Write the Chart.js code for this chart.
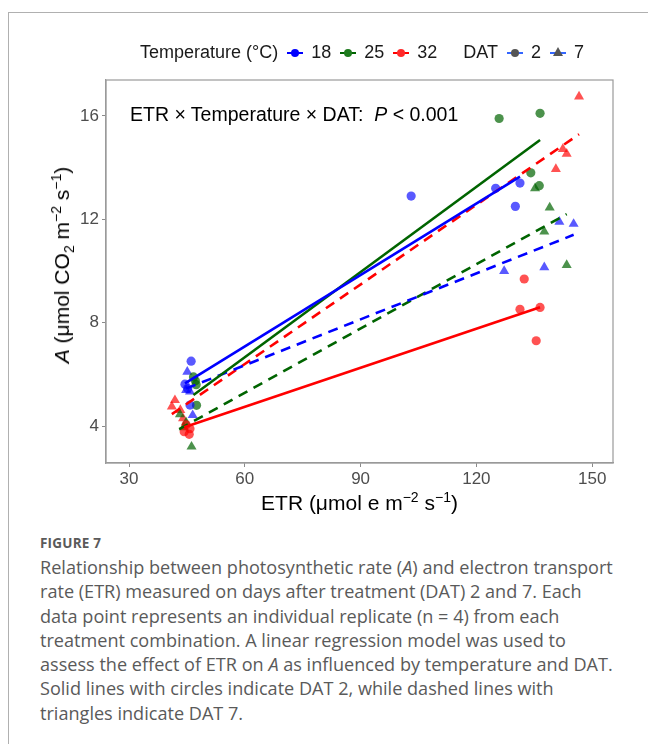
<!DOCTYPE html>
<html>
<head>
<meta charset="utf-8">
<script src="https://cdn.jsdelivr.net/npm/chart.js@4.4.1/dist/chart.umd.min.js"></script>
<style>
  body { margin: 0; background: #fff; }
  #wrap { position: relative; width: 648px; height: 744px; overflow: hidden; font-family: "Liberation Sans", Arial, sans-serif; }
  #frame { position: absolute; left: 8px; top: 12px; width: 700px; height: 800px; border-left: 1.5px solid #b0b0b0; border-top: 1.5px solid #b0b0b0; }
  #chart { position: absolute; left: 0; top: 0; }
  #legend { position: absolute; left: 140px; top: 42px; font-size: 18px; color: #1a1a1a; white-space: nowrap; display: flex; align-items: center; }
  .key { display: inline-block; position: relative; width: 16px; height: 14px; margin: 0 8px 0 9px; }
  .key .ln { position: absolute; left: 0; right: 0; top: 6px; height: 2.5px; }
  .key .dot { position: absolute; left: 4px; top: 3px; width: 8px; height: 8px; border-radius: 50%; }
  .key .tri { position: absolute; left: 3px; top: 1px; width: 0; height: 0; border-left: 5px solid transparent; border-right: 5px solid transparent; border-bottom: 9px solid #555; }
  #note { position: absolute; left: 130px; top: 103px; font-size: 19.5px; color: #000; white-space: nowrap; }
  #xtitle { position: absolute; left: 106px; width: 507px; top: 491px; text-align: center; font-size: 21px; color: #000; }
  #ytitle { position: absolute; left: 62px; top: 265px; transform: translate(-50%, -50%) rotate(-90deg); font-size: 21px; color: #000; white-space: nowrap; }
  sup, sub { font-size: 14px; line-height: 0; }
  #caption { position: absolute; left: 40px; top: 534px; width: 610px; font-family: "Open Sans", Lato, sans-serif; color: #5a5a5a; }
  #caption .fig { font-size: 13.5px; font-weight: bold; letter-spacing: 0.2px; margin-bottom: 3px; }
  #caption .txt { font-size: 18.1px; line-height: 24.3px; }
</style>
</head>
<body>
<div id="wrap">
  <div id="frame"></div>
  <canvas id="chart" width="648" height="500"></canvas>
  <div id="legend">
    <span>Temperature (°C)</span>
    <span class="key"><span class="ln" style="background:#0000ff"></span><span class="dot" style="background:#0000ff"></span></span><span>18</span>
    <span class="key"><span class="ln" style="background:#006400"></span><span class="dot" style="background:#1e7b1e"></span></span><span>25</span>
    <span class="key"><span class="ln" style="background:#ff0000"></span><span class="dot" style="background:#ff2a2a"></span></span><span>32</span>
    <span style="margin-left:26px">DAT</span>
    <span class="key"><span class="ln" style="background:#3366ff"></span><span class="dot" style="background:#555"></span></span><span>2</span>
    <span class="key"><span class="ln" style="background:#3366ff"></span><span class="tri"></span></span><span>7</span>
  </div>
  <div id="note">ETR × Temperature × DAT:&nbsp; <i>P</i> &lt; 0.001</div>
  <div id="xtitle">ETR (μmol e m<sup>−2</sup> s<sup>−1</sup>)</div>
  <div id="ytitle"><i>A</i> (μmol CO<sub>2</sub> m<sup>−2</sup> s<sup>−1</sup>)</div>
  <div id="caption">
    <div class="fig">FIGURE 7</div>
    <div class="txt">Relationship between photosynthetic rate (<i>A</i>) and electron transport<br>rate (ETR) measured on days after treatment (DAT) 2 and 7. Each<br>data point represents an individual replicate (n = 4) from each<br>treatment combination. A linear regression model was used to<br>assess the effect of ETR on <i>A</i> as influenced by temperature and DAT.<br>Solid lines with circles indicate DAT 2, while dashed lines with<br>triangles indicate DAT 7.</div>
  </div>
</div>
<script>
// axis ticks
const x_ticks = [30, 60, 90, 120, 150];
const y_ticks = [4, 8, 12, 16];

// points: ETR (x) and A (y), per temperature and DAT
const etr_18_d2 = [46.1, 44.5, 45.8, 45.2, 103.1, 125.0, 131.3, 130.1];
const a_18_d2   = [6.51, 5.62, 4.81, 5.45, 12.9, 13.2, 13.4, 12.5];
const etr_25_d2 = [46.7, 47.4, 47.5, 47.2, 125.9, 136.5, 134.1, 136.3];
const a_25_d2   = [5.9, 5.6, 4.8, 5.75, 15.9, 16.1, 13.8, 13.3];
const etr_32_d2 = [44.8, 44.3, 45.6, 45.8, 132.4, 131.3, 136.5, 135.5];
const a_32_d2   = [4.05, 3.78, 3.68, 3.9, 9.69, 8.52, 8.59, 7.30];
const etr_18_d7 = [45.1, 44.8, 45.8, 46.5, 127.2, 137.6, 141.5, 145.2];
const a_18_d7   = [6.10, 5.39, 5.33, 4.42, 10.0, 10.14, 11.9, 11.82];
const etr_25_d7 = [43.2, 44.8, 44.2, 46.2, 135.2, 139.0, 137.6, 143.4];
const a_25_d7   = [4.45, 4.14, 3.95, 3.20, 13.2, 12.45, 11.52, 10.23];
const etr_32_d7 = [41.9, 41.1, 43.3, 44.0, 146.6, 142.4, 143.4, 140.6];
const a_32_d7   = [5.0, 4.75, 4.62, 4.3, 16.75, 14.72, 14.53, 13.94];

// fitted regression lines (start, end)
const fit_18_d2_x = [44.5, 131.3], fit_18_d2_y = [5.65, 13.65];
const fit_25_d2_x = [46.7, 136.5], fit_25_d2_y = [5.2, 15.07];
const fit_32_d2_x = [44.3, 136.5], fit_32_d2_y = [3.95, 8.6];
const fit_18_d7_x = [44.8, 145.2], fit_18_d7_y = [5.45, 11.4];
const fit_25_d7_x = [43.0, 143.4], fit_25_d7_y = [3.88, 12.2];
const fit_32_d7_x = [41.1, 146.6], fit_32_d7_y = [4.46, 15.29];

const line_col = { 18: '#0000ff', 25: '#006400', 32: '#ff0000' };
const pt_col = { 18: 'rgba(0,0,255,0.65)', 25: 'rgba(0,100,0,0.7)', 32: 'rgba(255,0,0,0.68)' };

function pts(xs, ys) {
  return xs.map((x, i) => ({ x: x, y: ys[i] }));
}

function point_set(xs, ys, temp, shape) {
  return {
    type: 'scatter',
    data: pts(xs, ys),
    backgroundColor: pt_col[temp],
    borderWidth: 0,
    pointStyle: shape,
    pointRadius: shape === 'triangle' ? 5.8 : 4.6,
    order: 2
  };
}

function fit_set(xs, ys, temp, dashed) {
  return {
    type: 'line',
    data: pts(xs, ys),
    borderColor: line_col[temp],
    borderWidth: 2.6,
    borderDash: dashed ? [10, 7] : [],
    pointRadius: 0,
    fill: false,
    order: 1
  };
}

const datasets = [
  point_set(etr_18_d2, a_18_d2, 18, 'circle'),
  point_set(etr_25_d2, a_25_d2, 25, 'circle'),
  point_set(etr_32_d2, a_32_d2, 32, 'circle'),
  point_set(etr_18_d7, a_18_d7, 18, 'triangle'),
  point_set(etr_25_d7, a_25_d7, 25, 'triangle'),
  point_set(etr_32_d7, a_32_d7, 32, 'triangle'),
  fit_set(fit_18_d2_x, fit_18_d2_y, 18, false),
  fit_set(fit_25_d2_x, fit_25_d2_y, 25, false),
  fit_set(fit_32_d2_x, fit_32_d2_y, 32, false),
  fit_set(fit_18_d7_x, fit_18_d7_y, 18, true),
  fit_set(fit_25_d7_x, fit_25_d7_y, 25, true),
  fit_set(fit_32_d7_x, fit_32_d7_y, 32, true)
];

// grey box round the panel
const panel_box = {
  id: 'panel_box',
  afterDraw(chart) {
    const a = chart.chartArea;
    const c = chart.ctx;
    c.save();
    c.strokeStyle = '#9a9a9a';
    c.lineWidth = 1.2;
    c.strokeRect(a.left, a.top, a.right - a.left, a.bottom - a.top);
    c.restore();
  }
};

const tick_font = { family: '"Liberation Sans", Arial, sans-serif', size: 17 };

new Chart(document.getElementById('chart').getContext('2d'), {
  type: 'scatter',
  data: { datasets: datasets },
  options: {
    responsive: false,
    animation: false,
    layout: { padding: { left: 0, top: 80, right: 35, bottom: 0 } },
    plugins: { legend: { display: false }, tooltip: { enabled: false } },
    scales: {
      x: {
        type: 'linear',
        min: 24.04,
        max: 155.4,
        afterBuildTicks: s => { s.ticks = x_ticks.map(v => ({ value: v })); },
        afterFit: s => { s.height = 37; },
        ticks: { font: tick_font, color: '#4d4d4d', padding: 2, maxRotation: 0 },
        grid: { drawOnChartArea: false, drawTicks: true, tickLength: 4, color: '#8a8a8a' },
        border: { display: true, color: '#9a9a9a', width: 1.2 }
      },
      y: {
        type: 'linear',
        min: 2.57,
        max: 17.39,
        afterBuildTicks: s => { s.ticks = y_ticks.map(v => ({ value: v })); },
        afterFit: s => { s.width = 106; },
        ticks: { font: tick_font, color: '#4d4d4d', padding: 3 },
        grid: { drawOnChartArea: false, drawTicks: true, tickLength: 4, color: '#8a8a8a' },
        border: { display: true, color: '#9a9a9a', width: 1.2 }
      }
    }
  },
  plugins: [panel_box]
});
</script>
</body>
</html>
